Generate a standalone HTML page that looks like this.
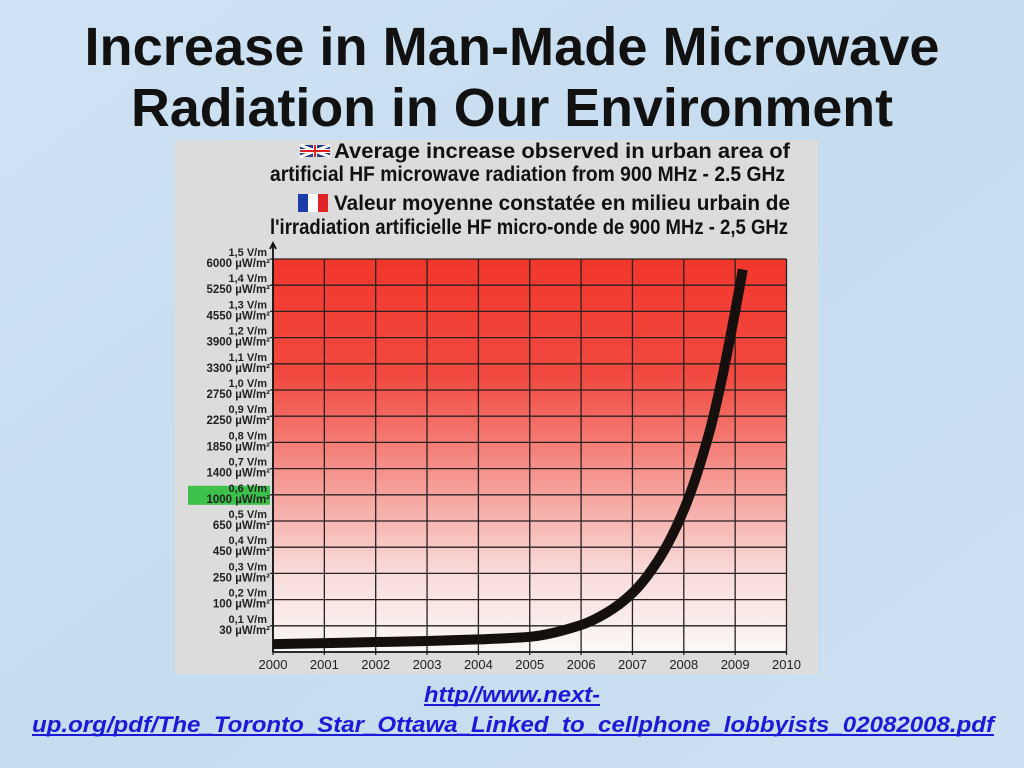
<!DOCTYPE html>
<html><head><meta charset="utf-8"><style>
html,body{margin:0;padding:0;width:1024px;height:768px;overflow:hidden;background:#c8dcef}
svg{display:block}
</style></head><body>
<svg id="page" width="1024" height="768" viewBox="0 0 1024 768" xmlns="http://www.w3.org/2000/svg" font-family="'Liberation Sans', sans-serif">
<defs>
<linearGradient id="bg" x1="0" y1="0" x2="1" y2="1">
<stop offset="0" stop-color="#cfe2f3"/><stop offset="0.5" stop-color="#c6dcef"/><stop offset="1" stop-color="#cde0f1"/>
</linearGradient>
<linearGradient id="plotg" x1="0" y1="0" x2="0" y2="1">
<stop offset="0" stop-color="#f2372c"/>
<stop offset="0.3" stop-color="#f14a40"/>
<stop offset="0.55" stop-color="#f5958f"/>
<stop offset="0.8" stop-color="#f8dcda"/>
<stop offset="1" stop-color="#fbf8f7"/>
</linearGradient>
</defs>
<rect width="1024" height="768" fill="url(#bg)"/>
<g font-weight="bold" font-size="54" text-anchor="middle" fill="#111">
<text x="512" y="65" textLength="855" lengthAdjust="spacingAndGlyphs">Increase in Man-Made Microwave</text>
<text x="512" y="126" textLength="762" lengthAdjust="spacingAndGlyphs">Radiation in Our Environment</text>
</g>
<rect x="175" y="140" width="643" height="534" fill="#dcdcdc"/>
<g font-weight="bold" font-size="21" fill="#111">
<g>
<rect x="300" y="145" width="30" height="12" fill="#2a3c8c"/>
<path d="M300 145 L330 157 M330 145 L300 157" stroke="#fff" stroke-width="3"/>
<path d="M315 145 V157 M300 151 H330" stroke="#fff" stroke-width="4"/>
<path d="M315 145 V157 M300 151 H330" stroke="#d22" stroke-width="2"/>
</g>
<text x="334" y="158" textLength="456" lengthAdjust="spacingAndGlyphs">Average increase observed in urban area of</text>
<text x="270" y="181" textLength="515" lengthAdjust="spacingAndGlyphs">artificial HF microwave radiation from 900 MHz - 2.5 GHz</text>
<g>
<rect x="298" y="194" width="10" height="18" fill="#1e3ca8"/><rect x="308" y="194" width="10" height="18" fill="#fff"/><rect x="318" y="194" width="10" height="18" fill="#e0242a"/>
</g>
<text x="334" y="210" textLength="456" lengthAdjust="spacingAndGlyphs">Valeur moyenne constatée en milieu urbain de</text>
<text x="270" y="234" textLength="518" lengthAdjust="spacingAndGlyphs">l'irradiation artificielle HF micro-onde de 900 MHz - 2,5 GHz</text>
</g>
<g id="chart"></g>
<g font-weight="bold" font-style="italic" font-size="22" fill="#1a1ad8">
<text x="512" y="702" text-anchor="middle" textLength="176" lengthAdjust="spacingAndGlyphs">http//www.next-</text>
<text x="32" y="732" textLength="962" lengthAdjust="spacingAndGlyphs">up.org/pdf/The_Toronto_Star_Ottawa_Linked_to_cellphone_lobbyists_02082008.pdf</text>
<rect x="424" y="704" width="176" height="2" fill="#1a1ad8"/>
<rect x="32" y="734" width="962" height="2" fill="#1a1ad8"/>
</g>
</svg>
<script>
const years = [2000,2001,2002,2003,2004,2005,2006,2007,2008,2009,2010];
const vmTicks = ["0,1 V/m","0,2 V/m","0,3 V/m","0,4 V/m","0,5 V/m","0,6 V/m","0,7 V/m","0,8 V/m","0,9 V/m","1,0 V/m","1,1 V/m","1,2 V/m","1,3 V/m","1,4 V/m","1,5 V/m"];
const uwTicks = ["30","100","250","450","650","1000","1400","1850","2250","2750","3300","3900","4550","5250","6000"];
const tickValues = [0.1,0.2,0.3,0.4,0.5,0.6,0.7,0.8,0.9,1.0,1.1,1.2,1.3,1.4,1.5];
const curveX = [2000,2001,2002,2003,2004,2005,2006,2006.5,2007,2007.5,2008,2008.5,2008.75,2009,2009.15];
const curveV = [0.03,0.034,0.038,0.042,0.048,0.058,0.103,0.15,0.225,0.35,0.542,0.84,1.05,1.3,1.46];

const NS="http://www.w3.org/2000/svg";
const g=document.getElementById('chart');
const X0=273,X1=786.5,Y0=652,VMAX=1.5,YTOP=259;
const xs=v=>X0+(v-2000)/(2010-2000)*(X1-X0);
const ys=v=>Y0-v/VMAX*(Y0-YTOP);
function mk(t,a){const e=document.createElementNS(NS,t);for(const k in a)e.setAttribute(k,a[k]);g.appendChild(e);return e;}

const plot=mk('rect',{x:X0,y:YTOP,width:X1-X0,height:Y0-YTOP,fill:'url(#plotg)'});



tickValues.forEach((v,i)=>{
  const y=ys(v);
  const l=mk('line',{x1:X0-3,x2:X1,y1:y,y2:y,stroke:'#2a2020','stroke-width':1.3});
  
  
  if(v===0.6){
    const hb=mk('rect',{x:188,y:y-9,width:82,height:19,fill:'#3cc24a'});
    
    
  }
  const t1=mk('text',{x:267,y:y-3,'text-anchor':'end','font-size':11,'font-weight':'bold',fill:'#222'});
  t1.textContent=vmTicks[i];
  
  
  const t2=mk('text',{x:270,y:y+8,'text-anchor':'end','font-size':11.5,'font-weight':'bold',fill:'#222'});
  t2.textContent=uwTicks[i]+' \u00b5W/m\u00b2';
  
  
});
years.forEach(yr=>{
  const x=xs(yr);
  const l=mk('line',{x1:x,x2:x,y1:YTOP,y2:Y0+3,stroke:'#2a2020','stroke-width':1.3});
  
  
  const t=mk('text',{x:x,y:669,'text-anchor':'middle','font-size':13,fill:'#222'});
  t.textContent=yr;
  
  
});
const ax=mk('path',{d:`M${X0} ${Y0} V244 M${X0-3} 249 L${X0} 243 L${X0+3} 249 M${X0} ${Y0} H${X1}`,stroke:'#111','stroke-width':1.8,fill:'none'});



// monotone cubic (Fritsch-Carlson) interpolation in data space
const n=curveX.length, dl=[], m=new Array(n);
for(let i=0;i<n-1;i++) dl.push((curveV[i+1]-curveV[i])/(curveX[i+1]-curveX[i]));
m[0]=dl[0]; m[n-1]=dl[n-2];
for(let i=1;i<n-1;i++){
  if(dl[i-1]*dl[i]<=0) m[i]=0;
  else { const h0=curveX[i]-curveX[i-1], h1=curveX[i+1]-curveX[i];
    const w1=2*h1+h0, w2=h1+2*h0; m[i]=(w1+w2)/(w1/dl[i-1]+w2/dl[i]); }
}
let d=`M${xs(curveX[0])} ${ys(curveV[0])}`;
for(let i=0;i<n-1;i++){
  const h=curveX[i+1]-curveX[i];
  const cx1=curveX[i]+h/3, cv1=curveV[i]+m[i]*h/3;
  const cx2=curveX[i+1]-h/3, cv2=curveV[i+1]-m[i+1]*h/3;
  d+=` C${xs(cx1)} ${ys(cv1)} ${xs(cx2)} ${ys(cv2)} ${xs(curveX[i+1])} ${ys(curveV[i+1])}`;
}
const c=mk('path',{d:d,stroke:'#15100e','stroke-width':10,fill:'none'});


</script>
</body></html>
